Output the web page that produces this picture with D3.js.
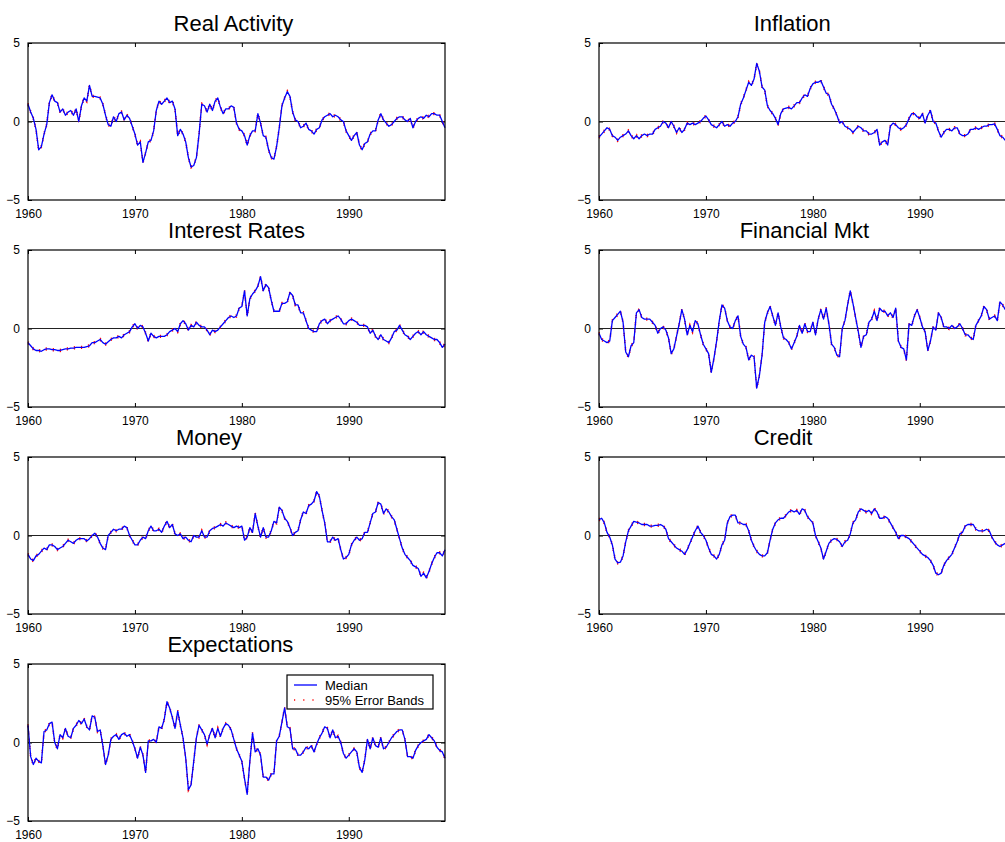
<!DOCTYPE html>
<html>
<head>
<meta charset="utf-8">
<script src="https://cdn.jsdelivr.net/npm/d3@7"></script>
<style>
  body { margin: 0; background: #fff; }
  svg { display: block; font-family: "Liberation Sans", Arial, Helvetica, sans-serif; }
  .title { white-space: pre; }
</style>
</head>
<body>
<div id="chart"></div>
<script>
// quarterly medians, 1960Q1 .. 1999Q1
const realActivity = [
  1.1, 0.6, 0.2, -0.5,   -1.8, -1.6, -0.8, -0.2,   1.2, 1.7, 1.3, 1.2,   0.6, 0.8, 0.4, 0.6,
  0.7, 0.4, 0.8, 0.0,    1.0, 1.5, 1.3, 2.3,       1.6, 1.6, 1.55, 1.5,  1.1, 0.4, -0.2, -0.3,
  0.3, 0.0, 0.5, 0.6,    0.1, 0.4, 0.2, -0.3,      -0.8, -1.5, -1.3, -2.6, -2.0, -1.3, -1.2, -0.6,
  0.7, 1.3, 1.1, 1.3,    1.5, 1.2, 1.3, 0.8,       -0.9, -0.5, -0.8, -1.3, -2.3, -2.9, -2.8, -2.3,
  -0.8, 1.1, 1.0, 0.6,   1.1, 0.7, 1.3, 1.5,       0.9, 0.5, 0.8, 0.8,   1.0, 0.9, -0.1, -0.5,
  -0.6, -0.9, -1.5, -0.9, -0.6, -0.6, 0.5, -0.1,   -0.9, -1.0, -1.8, -2.3, -2.4, -1.6, -0.4, 1.0,
  1.5, 1.9, 1.6, 0.6,    0.1, 0.0, -0.4, -0.3,     -0.1, -0.5, -0.6, -0.8, -0.5, -0.4, 0.1, 0.3,
  0.4, 0.5, 0.3, 0.4,    0.3, 0.1, 0.0, -0.6,      -0.9, -1.2, -0.9, -0.7, -1.5, -1.8, -1.4, -1.3,
  -0.8, -0.6, -0.6, 0.1, 0.5, 0.1, -0.1, -0.3,     -0.2, 0.0, 0.2, 0.3,  0.3, 0.1, 0.0, 0.2,
  -0.4, 0.0, 0.2, 0.3,   0.2, 0.4, 0.3, 0.5,       0.5, 0.4, 0.4, 0.0,
  -0.4
];
const inflation = [
  -1.0, -0.8, -0.6, -0.4, -0.5, -0.9, -1.0, -1.2,  -1.0, -0.9, -0.8, -0.6, -0.9, -1.1, -0.9, -1.1,
  -0.9, -0.8, -0.9, -0.8, -0.8, -0.5, -0.4, -0.3,  0.0, -0.1, -0.4, 0.0,   -0.3, -0.7, -0.4, -0.7,
  -0.5, -0.1, -0.2, -0.1, -0.2, -0.1, 0.0, 0.2,    0.35, 0.1, -0.2, -0.3,  -0.4, -0.2, 0.0, -0.3,
  -0.2, -0.3, -0.1, 0.0,  0.3, 1.1, 1.5, 2.0,      2.5, 2.3, 2.7, 3.7,     3.2, 2.2, 2.0, 1.0,
  0.7, 0.5, 0.2, -0.2,    0.5, 0.8, 0.85, 0.9,     0.8, 1.0, 1.2, 1.2,     1.5, 1.7, 1.6, 2.1,
  2.4, 2.5, 2.5, 2.6,     2.2, 1.8, 1.7, 1.1,      0.8, 0.4, -0.1, 0.0,    -0.3, -0.4, -0.5, -0.7,
  -0.5, -0.3, -0.4, -0.6, -0.6, -0.8, -0.8, -0.7,  -0.5, -1.5, -1.3, -1.2, -1.5, -0.3, -0.1, -0.2,
  -0.4, -0.5, -0.4, -0.2, 0.2, 0.5, 0.5, 0.3,      0.2, 0.5, -0.1, 0.4,    0.7, 0.0, -0.1, -0.6,
  -1.0, -0.7, -0.5, -0.5, -0.6, -0.4, -0.4, -0.8,  -0.9, -0.9, -0.8, -0.5, -0.5, -0.4, -0.5, -0.4,
  -0.3, -0.3, -0.2, -0.2, -0.15, -0.5, -0.9, -1.0, -1.2, -1.3, -1.4, -1.3,
  -1.2
];
const interestRates = [
  -0.9, -1.1, -1.3, -1.4, -1.4, -1.45, -1.35, -1.3, -1.3, -1.35, -1.35, -1.4, -1.4, -1.35, -1.3, -1.3,
  -1.25, -1.25, -1.2, -1.2, -1.2, -1.2, -1.15, -1.1, -0.9, -0.9, -0.8, -0.7,  -0.9, -1.0, -0.85, -0.7,
  -0.6, -0.6, -0.5, -0.6, -0.4, -0.3, -0.2, 0.1,   0.3, 0.0, 0.2, 0.1,      -0.3, -0.8, -0.3, -0.5,
  -0.6, -0.5, -0.5, -0.5, -0.4, -0.2, -0.1, 0.0,   -0.2, 0.3, 0.5, 0.3,     -0.1, 0.2, 0.1, 0.4,
  0.2, 0.1, 0.1, -0.1,    -0.4, -0.1, -0.2, -0.1,  0.1, 0.3, 0.5, 0.7,      0.8, 0.7, 0.8, 1.3,
  1.4, 2.4, 0.8, 1.9,     2.2, 2.4, 2.7, 3.3,      2.4, 2.8, 2.6, 1.8,      1.1, 1.1, 1.1, 1.6,
  1.6, 1.7, 2.3, 2.1,     1.5, 1.5, 1.0, 1.0,      0.5, 0.0, -0.1, -0.2,    -0.2, 0.3, 0.5, 0.6,
  0.3, 0.5, 0.6, 0.7,     0.8, 0.6, 0.3, 0.3,      0.5, 0.6, 0.5, 0.4,      0.2, 0.2, 0.2, 0.1,
  -0.3, -0.1, -0.5, -0.7, -0.4, -0.7, -0.8, -0.9,  -0.6, -0.2, -0.1, 0.2,   -0.1, -0.4, -0.5, -0.7,
  -0.5, -0.3, -0.2, -0.4, -0.2, -0.4, -0.5, -0.6,  -0.7, -0.7, -0.9, -1.2,
  -1.0
];
const financialMkt = [
  -0.3, -0.7, -0.8, -0.9, -0.8, 0.5, 0.7, 0.9,     1.1, 0.4, -1.5, -1.8,    -1.1, -0.9, 1.0, 1.2,
  0.7, 0.6, 0.6, 0.6,     0.4, 0.2, -0.3, 0.0,     0.1, -0.1, -0.6, -1.6,   -1.3, -0.5, 0.3, 1.2,
  0.6, -0.4, 0.2, -0.2,   0.5, 0.3, -0.4, -1.0,    -1.3, -1.6, -2.8, -1.9,  -0.8, 0.5, 1.5, 1.3,
  0.5, 0.1, 0.0, 0.5,     0.8, -0.5, -1.0, -1.2,   -2.0, -1.7, -1.8, -3.8,  -3.0, -1.7, 0.4, 1.0,
  1.4, 0.8, 0.2, 1.0,     0.1, -0.6, -0.7, -0.9,   -1.3, -0.9, -0.5, 0.2,   -0.3, 0.3, -0.2, -0.2,
  0.4, -0.4, 0.6, 1.2,    0.6, 1.3, 0.3, -1.0,     -1.2, -1.7, -1.8, 0.0,   0.5, 1.5, 2.4, 1.6,
  0.7, -0.2, -1.2, -0.5,  -0.4, 0.4, 0.6, 1.1,     0.5, 1.3, 1.1, 1.1,      0.8, 1.0, 0.7, 1.3,
  -0.8, -1.2, -1.3, -2.0, 0.3, 0.2, 0.8, 1.2,      0.7, 0.1, -0.2, -1.4,    -0.8, 0.1, -0.1, 1.0,
  0.7, 0.1, 0.1, 0.0,     0.2, 0.0, 0.1, 0.3,      0.0, -0.4, -0.4, -0.6,   -0.7, 0.2, 0.5, 0.8,
  1.4, 1.2, 0.6, 0.7,     0.8, 0.5, 1.7, 1.5,      1.2, 1.0, 0.8, 0.7,
  0.6
];
const money = [
  -1.2, -1.5, -1.6, -1.3, -1.2, -1.0, -0.8, -0.9,  -0.6, -0.6, -0.7, -0.9,  -0.8, -0.7, -0.5, -0.3,
  -0.4, -0.5, -0.3, -0.2, -0.2, -0.2, -0.35, -0.2, 0.0, 0.15, -0.1, -0.5,   -0.8, -0.9, 0.0, 0.2,
  0.4, 0.3, 0.4, 0.4,     0.6, 0.5, 0.0, -0.3,     -0.6, -0.6, -0.3, -0.1,  -0.2, 0.3, 0.6, 0.3,
  0.3, 0.4, 0.2, 0.6,     0.9, 0.5, 0.7, 0.1,      0.0, 0.1, -0.2, -0.1,    -0.3, -0.4, 0.0, -0.1,
  -0.1, 0.3, -0.1, -0.1,  0.3, 0.45, 0.5, 0.6,     0.7, 0.6, 0.8, 0.7,      0.6, 0.5, 0.6, 0.5,
  0.6, -0.3, -0.1, 0.5,   0.2, 1.4, 0.6, -0.1,     0.5, -0.1, -0.1, 0.3,    0.9, 0.8, 1.8, 1.6,
  1.1, 0.9, 0.5, 0.0,     0.2, 0.3, 1.0, 1.5,      1.4, 1.9, 2.0, 2.2,      2.8, 2.5, 1.6, 0.8,
  -0.4, -0.4, -0.1, -0.3, -0.2, -0.9, -1.5, -1.4,  -1.2, -0.6, -0.3, -0.1,  -0.3, -0.2, 0.2, 0.2,
  0.8, 1.4, 1.5, 2.1,     2.0, 1.4, 1.7, 1.5,      1.2, 1.0, 0.4, -0.2,     -0.8, -1.2, -1.4, -1.6,
  -1.9, -2.0, -2.1, -2.6, -2.4, -2.7, -2.3, -1.8,  -1.4, -1.1, -1.1, -1.3,
  -0.9
];
const credit = [
  1.0, 1.1, 0.8, 0.2,     -0.1, -0.6, -1.5, -1.75, -1.7, -1.3, -0.4, 0.3,   0.6, 0.9, 0.85, 0.8,
  0.7, 0.7, 0.7, 0.6,     0.6, 0.65, 0.65, 0.7,    0.6, 0.4, -0.2, -0.4,    -0.6, -0.8, -0.9, -1.0,
  -1.2, -0.9, -0.5, -0.1, 0.3, 0.6, 0.2, 0.0,      -0.3, -0.8, -1.2, -1.3,  -1.5, -1.2, -0.6, -0.3,
  0.8, 1.2, 1.3, 1.3,     0.8, 0.8, 0.7, 0.7,      0.3, -0.3, -0.7, -1.0,   -1.2, -1.3, -1.3, -1.1,
  -0.3, 0.4, 0.8, 1.0,    1.1, 1.1, 1.3, 1.5,      1.6, 1.5, 1.6, 1.35,     1.7, 1.6, 1.2, 1.0,
  0.8, 0.0, -0.4, -0.8,   -1.5, -1.0, -0.5, -0.3,  -0.2, -0.25, -0.4, -0.7, -0.4, -0.3, 0.1, 0.8,
  1.0, 1.5, 1.7, 1.6,     1.5, 1.6, 1.4, 1.7,      1.5, 1.1, 1.1, 1.2,      1.1, 0.8, 0.5, 0.2,
  -0.2, 0.0, 0.0, -0.1,   -0.2, -0.4, -0.6, -0.8,  -1.0, -1.2, -1.3, -1.4,  -1.6, -1.9, -2.4, -2.5,
  -2.4, -1.9, -1.6, -1.4, -1.2, -0.8, -0.4, 0.1,   0.2, 0.6, 0.7, 0.7,      0.7, 0.4, 0.3, 0.3,
  0.3, 0.4, 0.3, -0.1,    -0.4, -0.6, -0.7, -0.6,  -0.5, -0.4, -0.3, -0.3,
  -0.2
];
const expectations = [
  1.1, -0.9, -1.4, -1.0,  -1.2, -1.3, 0.7, 0.8,    1.2, 1.3, 0.0, -0.4,     0.5, 0.3, 0.9, 0.4,
  0.3, 0.9, 1.1, 1.4,     1.2, 1.5, 1.0, 0.8,      1.7, 1.6, 0.7, 0.8,      -0.2, -1.4, -0.8, 0.2,
  0.4, 0.5, 0.2, 0.5,     0.6, 0.4, 0.5, 0.1,      -0.4, -1.0, -0.3, -0.8,  -1.9, 0.1, 0.1, 0.2,
  0.0, 1.0, 0.9, 1.5,     2.6, 2.2, 1.6, 0.9,      2.0, 1.1, 0.3, -1.0,     -3.0, -2.7, -1.2, 0.3,
  1.1, 0.8, 0.5, -0.1,    0.5, 0.9, 0.3, 0.9,      0.4, 0.9, 1.2, 1.1,      0.8, 0.2, -0.4, -0.8,
  -1.2, -2.3, -3.3, -1.2, 0.6, -0.6, -0.4, -0.8,   -2.2, -2.2, -2.4, -2.0,  -2.0, 0.1, 0.4, 1.3,
  2.2, 1.0, 0.9, -0.4,    -0.4, -0.8, -0.8, -0.6,  -0.3, -0.4, -0.2, -0.6,  -0.1, 0.3, 0.6, 1.0,
  0.9, 0.3, 0.8, 0.3,     0.4, 0.0, -0.7, -1.0,    -0.8, -0.6, -0.4, -0.6,  -1.6, -1.9, -1.1, 0.2,
  -0.4, 0.3, -0.2, -0.3,  0.3, -0.4, -0.3, 0.0,    0.3, 0.5, 0.7, 0.8,      0.8, 0.2, -0.9, -0.9,
  -1.0, -0.5, -0.2, 0.0,  0.1, 0.2, 0.5, 0.3,      0.1, -0.3, -0.5, -0.6,
  -1.0
];

const panelTitles = ["Real Activity", "Inflation", "Interest Rates", "Financial Mkt",
                     "Money", "Credit", "Expectations"];
const panelSeries = [realActivity, inflation, interestRates, financialMkt,
                     money, credit, expectations];
const xTicks = [1960, 1970, 1980, 1990];
const yTicks = [-5, 0, 5];
const legendLabels = ["Median", "95% Error Bands"];
const bandHalfWidth = 0.06;   // error bands hug the median in the figure

const startYear = 1960;
const quarters = realActivity.map((d, i) => startYear + i / 4);

// layout
const W = 1005, H = 842;
const colLeft = [28, 599];
const rowTop = [43, 250, 457, 664];
const pw = 417, ph = 157;

const svg = d3.select("#chart").append("svg")
    .attr("width", W)
    .attr("height", H);

const x = d3.scaleLinear().domain([1960, 1999]).range([0, pw]);
const y = d3.scaleLinear().domain([-5, 5]).range([ph, 0]);

// MATLAB pads char-matrix rows with blanks, so titles centre with trailing spaces
const maxLen = d3.max(panelTitles, d => d.length);

const line = d3.line()
    .x(d => x(d[0]))
    .y(d => y(d[1]));

panelSeries.forEach(function (series, i) {
    let left = colLeft[i % 2];
    let top = rowTop[Math.floor(i / 2)];

    let g = svg.append("g")
        .attr("transform", "translate(" + left + "," + top + ")");

    // title
    svg.append("text")
        .attr("class", "title")
        .attr("x", left + pw / 2)
        .attr("y", top - 12)
        .attr("text-anchor", "middle")
        .style("font-size", "22px")
        .attr("fill", "#000")
        .text(panelTitles[i].padEnd(maxLen, " "));

    // axes with inward ticks
    let xAxis = g.append("g")
        .attr("transform", "translate(0," + ph + ")")
        .call(d3.axisBottom(x).tickValues(xTicks).tickFormat(d3.format("d"))
            .tickSizeInner(-4).tickSizeOuter(0).tickPadding(9));
    let xTop = g.append("g")
        .call(d3.axisTop(x).tickValues(xTicks).tickFormat("")
            .tickSizeInner(-4).tickSizeOuter(0));
    let yAxis = g.append("g")
        .call(d3.axisLeft(y).tickValues(yTicks)
            .tickSizeInner(-4).tickSizeOuter(0).tickPadding(8));
    let yRight = g.append("g")
        .attr("transform", "translate(" + pw + ",0)")
        .call(d3.axisRight(y).tickValues(yTicks).tickFormat("")
            .tickSizeInner(-4).tickSizeOuter(0));

    [xAxis, xTop, yAxis, yRight].forEach(a => {
        a.select(".domain").remove();
        a.selectAll("text").style("font-size", "12px").attr("fill", "#000")
            .style("font-family", "'Liberation Sans', Arial, sans-serif");
        a.selectAll("line").attr("stroke", "#000");
    });

    // zero line
    g.append("line")
        .attr("x1", 0).attr("x2", pw)
        .attr("y1", y(0)).attr("y2", y(0))
        .attr("stroke", "#222")
        .attr("stroke-width", 1.1);

    let pts = series.map((v, k) => [quarters[k], v]);
    let upper = series.map((v, k) => [quarters[k], v + bandHalfWidth]);
    let lower = series.map((v, k) => [quarters[k], v - bandHalfWidth]);

    // error bands (red dotted) beneath the median
    [upper, lower].forEach(b => {
        g.append("path")
            .datum(b)
            .attr("d", line)
            .attr("fill", "none")
            .attr("stroke", "#ff0000")
            .attr("stroke-width", 1.5)
            .attr("stroke-dasharray", "1.2 6");
    });

    g.append("path")
        .datum(pts)
        .attr("d", line)
        .attr("fill", "none")
        .attr("stroke", "#0000ff")
        .attr("stroke-width", 1.3)
        .attr("stroke-linejoin", "round");

    // frame
    g.append("rect")
        .attr("width", pw)
        .attr("height", ph)
        .attr("fill", "none")
        .attr("stroke", "#000")
        .attr("stroke-width", 1.2);

    // legend on the last panel
    if (i === panelSeries.length - 1) {
        let lg = g.append("g")
            .attr("transform", "translate(" + (pw - 158) + ",11)");
        lg.append("rect")
            .attr("width", 146).attr("height", 34)
            .attr("fill", "#fff")
            .attr("stroke", "#000")
            .attr("stroke-width", 1.2);
        lg.append("line")
            .attr("x1", 7).attr("x2", 30)
            .attr("y1", 10).attr("y2", 10)
            .attr("stroke", "#0000ff").attr("stroke-width", 1.3);
        lg.append("line")
            .attr("x1", 7).attr("x2", 30)
            .attr("y1", 25).attr("y2", 25)
            .attr("stroke", "#ff0000").attr("stroke-width", 1.5)
            .attr("stroke-dasharray", "1.2 8");
        lg.selectAll("text.leg")
            .data(legendLabels)
            .enter()
            .append("text")
            .attr("class", "leg")
            .attr("x", 38)
            .attr("y", (d, k) => 14.5 + k * 15)
            .style("font-size", "13px")
            .attr("fill", "#000")
            .text(d => d);
    }
});
</script>
</body>
</html>
